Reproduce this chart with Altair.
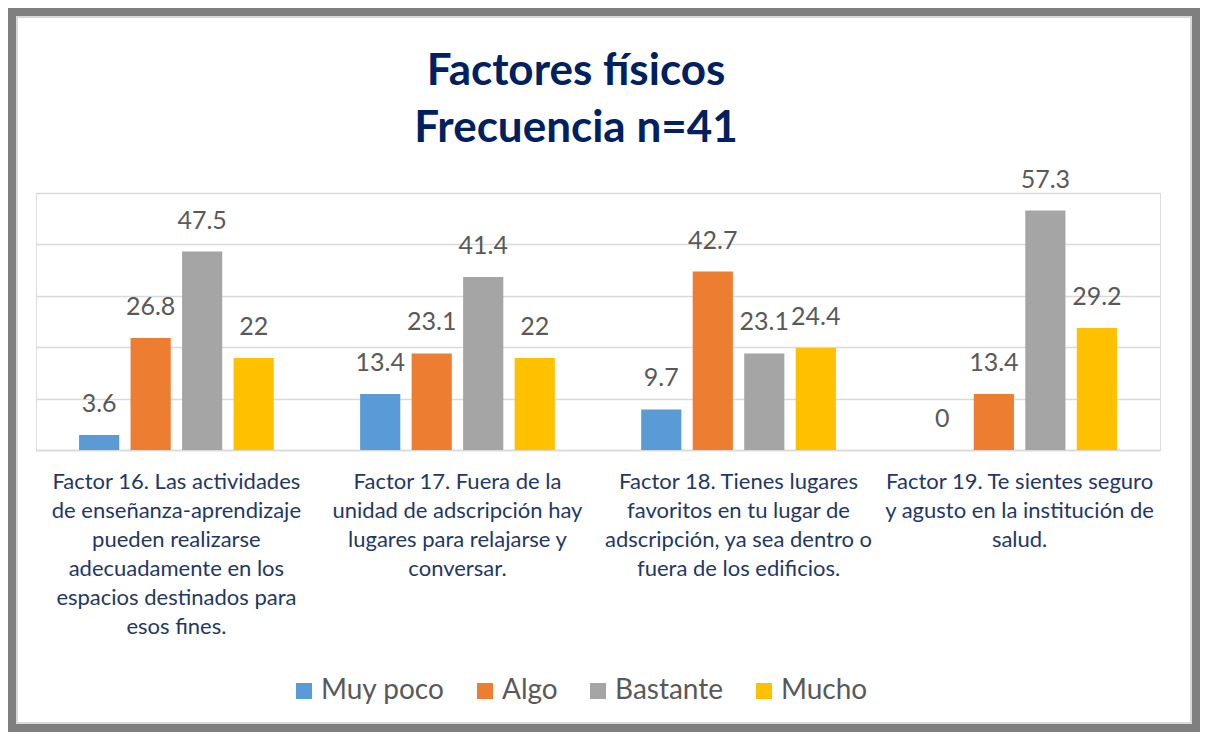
import altair as alt
import pandas as pd

# ---- data ----
factor_lines = [
    ["Factor 16. Las actividades", "de enseñanza-aprendizaje", "pueden realizarse",
     "adecuadamente en los", "espacios destinados para", "esos fines."],
    ["Factor 17. Fuera de la", "unidad de adscripción hay", "lugares para relajarse y",
     "conversar."],
    ["Factor 18. Tienes lugares", "favoritos en tu lugar de", "adscripción, ya sea dentro o",
     "fuera de los edificios."],
    ["Factor 19. Te sientes seguro", "y agusto en la institución de", "salud."],
]
series = ["Muy poco", "Algo", "Bastante", "Mucho"]
colors = ["#5B9BD5", "#ED7D31", "#A5A5A5", "#FFC000"]
muy_poco = [3.6, 13.4, 9.7, 0]
algo = [26.8, 23.1, 42.7, 13.4]
bastante = [47.5, 41.4, 23.1, 57.3]
mucho = [22, 22, 24.4, 29.2]
grid_values = [0, 12.3, 24.6, 36.9, 49.2, 61.5]

categories = ["|".join(lines) for lines in factor_lines]
rows = []
for name, vals in zip(series, [muy_poco, algo, bastante, mucho]):
    for cat, v in zip(categories, vals):
        rows.append({"factor": cat, "serie": name, "valor": v})
df = pd.DataFrame(rows)

FONT = "Lato"
W, H = 1124, 257

x_enc = alt.X("factor:N", sort=categories, title=None,
              scale=alt.Scale(paddingInner=0.267, paddingOuter=0.133),
              axis=alt.Axis(labelExpr="split(datum.label, '|')", labelAngle=0,
                            labelFont=FONT, labelFontSize=22, labelLineHeight=29,
                            labelColor="#1F3864", labelLimit=400, labelPadding=21,
                            labelBaseline="top", ticks=False, domainColor="#D9D9D9",
                            domainWidth=1.5, labelOverlap=False))
xo_enc = alt.XOffset("serie:N", sort=series,
                     scale=alt.Scale(paddingInner=0.22, paddingOuter=0.11))
y_enc = alt.Y("valor:Q", title=None,
              scale=alt.Scale(domain=[0, 61.5], nice=False),
              axis=alt.Axis(values=grid_values, labels=False, ticks=False, domain=False,
                            grid=True, gridColor="#D9D9D9", gridWidth=1.5))

base = alt.Chart(df)

bars = base.mark_bar().encode(
    x=x_enc, xOffset=xo_enc, y=y_enc,
    color=alt.Color("serie:N", sort=series,
                    scale=alt.Scale(domain=series, range=colors),
                    legend=alt.Legend(title=None, orient="none", legendX=254, legendY=484,
                                      direction="horizontal", columns=4,
                                      symbolType="square", symbolSize=256,
                                      symbolStrokeWidth=0, labelFont=FONT,
                                      labelFontSize=28, labelColor="#595959",
                                      labelOffset=3, columnPadding=26)),
)

labels = base.mark_text(font=FONT, fontSize=25, color="#595959",
                        baseline="alphabetic", dy=-23).encode(
    x=alt.X("factor:N", sort=categories),
    xOffset=alt.XOffset("serie:N", sort=series),
    y="valor:Q",
    text=alt.Text("valor:Q", format=".1~f"),
)

frame = base.mark_rect(fill="transparent", stroke="#7F7F7F", strokeWidth=8).encode(
    x=alt.value(-24), x2=alt.value(1160), y=alt.value(-181), y2=alt.value(535)
)
inner = base.mark_rect(fill="transparent", stroke="#D9D9D9", strokeWidth=1.5).encode(
    x=alt.value(-19), x2=alt.value(1155), y=alt.value(-176), y2=alt.value(530)
)

chart = alt.layer(frame, inner, bars, labels).properties(
    width=W, height=H,
    padding=0,
    title=alt.TitleParams(["Factores físicos", "Frecuencia n=41"], font=FONT,
                          fontSize=44, fontWeight="bold", color="#002060",
                          anchor="middle", frame="group", lineHeight=57,
                          offset=-143, dx=-22),
).configure_view(stroke=None).configure(background="white")

chart.save("out.html", embed_options={"renderer": "svg", "actions": False})
